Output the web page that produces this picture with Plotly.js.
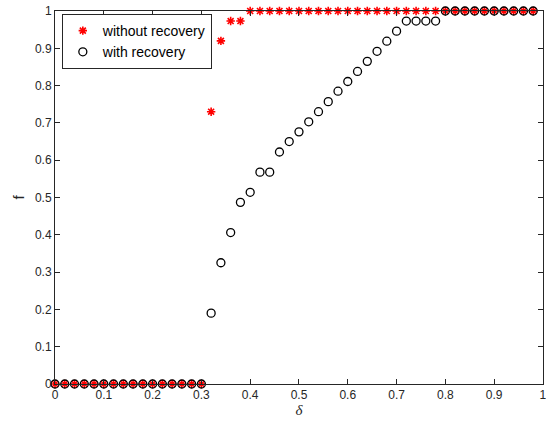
<!DOCTYPE html>
<html><head><meta charset="utf-8">
<script src="https://cdn.plot.ly/plotly-3.0.1.min.js"></script>
<style>html,body{margin:0;padding:0;background:#fff}</style>
</head><body>
<div id="chart" style="width:546px;height:427px"></div>
<script>
const delta = [0,0.02,0.04,0.06,0.08,0.10,0.12,0.14,0.16,0.18,0.20,0.22,0.24,0.26,0.28,0.30,
  0.32,0.34,0.36,0.38,0.40,0.42,0.44,0.46,0.48,0.50,0.52,0.54,0.56,0.58,0.60,0.62,0.64,0.66,0.68,
  0.70,0.72,0.74,0.76,0.78,0.80,0.82,0.84,0.86,0.88,0.90,0.92,0.94,0.96,0.98];
const withoutRecovery = [0,0,0,0,0,0,0,0,0,0,0,0,0,0,0,0,
  0.73,0.92,0.973,0.973,1,1,1,1,1,1,1,1,1,1,1,1,1,1,1,
  1,1,1,1,1,1,1,1,1,1,1,1,1,1,1];
const withRecovery = [0,0,0,0,0,0,0,0,0,0,0,0,0,0,0,0,
  0.19,0.325,0.406,0.487,0.514,0.568,0.568,0.622,0.650,0.676,0.703,0.730,0.757,0.785,0.811,0.838,0.865,0.892,0.919,
  0.946,0.973,0.973,0.973,0.973,1,1,1,1,1,1,1,1,1,1];
const tickVals = [0,0.1,0.2,0.3,0.4,0.5,0.6,0.7,0.8,0.9,1];
const tickText = ['0','0.1','0.2','0.3','0.4','0.5','0.6','0.7','0.8','0.9','1'];

const traces = [
  {x: delta, y: withoutRecovery, type: 'scatter', mode: 'markers', name: 'without recovery',
   cliponaxis: false,
   marker: {symbol: 'asterisk-open', size: 7, color: '#ff0000', line: {color: '#ff0000', width: 1.6}}},
  {x: delta, y: withRecovery, type: 'scatter', mode: 'markers', name: 'with recovery',
   cliponaxis: false,
   marker: {symbol: 'circle-open', size: 8, color: '#000000', line: {color: '#000000', width: 1.3}}}
];
const axisCommon = {
  tickvals: tickVals, ticktext: tickText,
  ticks: 'inside', ticklen: 5, tickcolor: '#262626', tickwidth: 1,
  showline: true, linecolor: '#262626', linewidth: 1, mirror: 'allticks',
  showgrid: false, zeroline: false, ticklabeloverflow: 'allow',
  tickfont: {family: 'Liberation Sans, Arial, sans-serif', size: 12, color: '#262626'}
};
const layout = {
  width: 546, height: 427,
  margin: {l: 55, r: 3, t: 11, b: 43},
  paper_bgcolor: '#ffffff', plot_bgcolor: '#ffffff',
  showlegend: true,
  legend: {x: 0.014, y: 0.992, xanchor: 'left', yanchor: 'top',
    bgcolor: '#ffffff', bordercolor: '#262626', borderwidth: 1,
    font: {family: 'Liberation Sans, Arial, sans-serif', size: 14, color: '#000'},
    tracegroupgap: 0, itemwidth: 30},
  xaxis: Object.assign({}, axisCommon, {
    range: [0, 1.0001], automargin: false,
    title: {text: '<i>δ</i>', standoff: 0, font: {family: 'Liberation Serif, Times New Roman, serif', size: 15, color: '#262626'}}
  }),
  yaxis: Object.assign({}, axisCommon, {
    range: [0, 1],
    title: {text: 'f', standoff: 6, font: {family: 'Liberation Sans, Arial, sans-serif', size: 15, color: '#262626'}}
  })
};
Plotly.newPlot('chart', traces, layout, {displayModeBar: false, staticPlot: true});
</script>
</body></html>
